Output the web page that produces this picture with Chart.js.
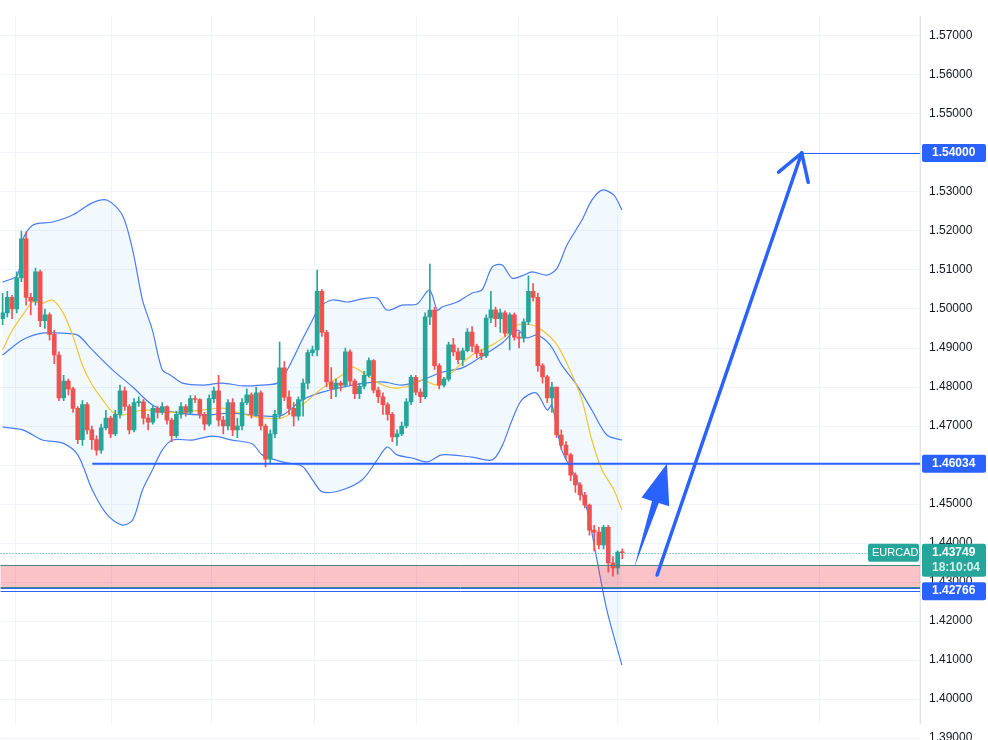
<!DOCTYPE html>
<html>
<head>
<meta charset="utf-8">
<script src="https://cdn.jsdelivr.net/npm/chart.js@4/dist/chart.umd.min.js"></script>
<style>
  html, body { margin: 0; padding: 0; background: #fff; }
  #wrap { width: 988px; height: 740px; }
</style>
</head>
<body>
<div id="wrap"><canvas id="c" width="988" height="740"></canvas></div>
<script>
// --- data (EURCAD) ---
const closes = [
  1.4990, 1.5030, 1.5000, 1.5080, 1.5180, 1.5030, 1.5020, 1.5095, 1.4970, 1.4985,
  1.4935, 1.4882, 1.4772, 1.4815, 1.4795, 1.4745, 1.4665, 1.4755, 1.4690, 1.4665,
  1.4638, 1.4695, 1.4720, 1.4680, 1.4730, 1.4790, 1.4750, 1.4690, 1.4760, 1.4762,
  1.4720, 1.4710, 1.4745, 1.4735, 1.4750, 1.4715, 1.4675, 1.4730, 1.4750, 1.4735,
  1.4770, 1.4768, 1.4730, 1.4705, 1.4770, 1.4790, 1.4715, 1.4700, 1.4760, 1.4690,
  1.4700, 1.4760, 1.4780, 1.4730, 1.4785, 1.4700, 1.4615, 1.4680, 1.4730, 1.4849,
  1.4774, 1.4745, 1.4725, 1.4768, 1.4810, 1.4888, 1.4895, 1.5045, 1.4940, 1.4813,
  1.4795, 1.4810, 1.4805, 1.4890, 1.4815, 1.4783, 1.4802, 1.4830, 1.4868, 1.4792,
  1.4775, 1.4755, 1.4730, 1.4672, 1.4680, 1.4700, 1.4762, 1.4825, 1.4787, 1.4775,
  1.4980, 1.4997, 1.4855, 1.4805, 1.4820, 1.4908, 1.4890, 1.4870, 1.4893, 1.4941,
  1.4905, 1.4887, 1.4880, 1.4977, 1.4998, 1.4975, 1.4990, 1.4938, 1.4985, 1.4928,
  1.4925, 1.4967, 1.5045, 1.5030, 1.4855, 1.4826, 1.4772, 1.4800, 1.4677, 1.4651,
  1.4626, 1.4574, 1.4549, 1.4523, 1.4497, 1.4433, 1.4428, 1.4395, 1.4440, 1.4349,
  1.4336, 1.4377, 1.4375
];
const firstOpen = 1.4975;
const highs = [
  1.5040, 1.5045, 1.5035, 1.5095, 1.5200, 1.5198, 1.5040, 1.5105, 1.5100, 1.5000,
  1.4990, 1.4945, 1.4890, 1.4830, 1.4820, 1.4800, 1.4750, 1.4765, 1.4760, 1.4700,
  1.4675, 1.4705, 1.4740, 1.4725, 1.4740, 1.4805, 1.4800, 1.4755, 1.4770, 1.4775,
  1.4768, 1.4730, 1.4752, 1.4750, 1.4760, 1.4752, 1.4720, 1.4738, 1.4760, 1.4755,
  1.4778, 1.4778, 1.4770, 1.4735, 1.4780, 1.4800, 1.4830, 1.4725, 1.4768, 1.4770,
  1.4720, 1.4770, 1.4795, 1.4785, 1.4800, 1.4790, 1.4705, 1.4690, 1.4740, 1.4915,
  1.4865, 1.4790, 1.4760, 1.4775, 1.4820, 1.4895, 1.4905, 1.5100, 1.5050, 1.4945,
  1.4850, 1.4820, 1.4815, 1.4900, 1.4895, 1.4820, 1.4810, 1.4840, 1.4875, 1.4870,
  1.4800, 1.4785, 1.4760, 1.4735, 1.4690, 1.4710, 1.4770, 1.4830, 1.4830, 1.4795,
  1.4990, 1.5115, 1.5005, 1.4860, 1.4825, 1.4915, 1.4925, 1.4900, 1.4900, 1.4950,
  1.4955, 1.4910, 1.4895, 1.4985, 1.5045, 1.5005, 1.5000, 1.4995, 1.4990, 1.4990,
  1.4940, 1.4975, 1.5085, 1.5065, 1.5040, 1.4860, 1.4830, 1.4812, 1.4800, 1.4690,
  1.4660, 1.4630, 1.4580, 1.4555, 1.4530, 1.4500, 1.4445, 1.4440, 1.4445, 1.4445,
  1.4365, 1.4380, 1.4385
];
const lows = [
  1.4960, 1.4980, 1.4975, 1.4990, 1.5070, 1.5010, 1.4985, 1.5010, 1.4955, 1.4950,
  1.4920, 1.4860, 1.4765, 1.4765, 1.4780, 1.4735, 1.4655, 1.4650, 1.4680, 1.4640,
  1.4625, 1.4630, 1.4690, 1.4670, 1.4675, 1.4720, 1.4740, 1.4680, 1.4685, 1.4750,
  1.4705, 1.4690, 1.4705, 1.4720, 1.4730, 1.4705, 1.4660, 1.4670, 1.4720, 1.4725,
  1.4730, 1.4760, 1.4720, 1.4690, 1.4700, 1.4760, 1.4700, 1.4680, 1.4690, 1.4675,
  1.4670, 1.4690, 1.4755, 1.4720, 1.4725, 1.4690, 1.4595, 1.4605, 1.4670, 1.4720,
  1.4765, 1.4730, 1.4700, 1.4715, 1.4725, 1.4795, 1.4880, 1.4880, 1.4930, 1.4800,
  1.4770, 1.4775, 1.4790, 1.4800, 1.4805, 1.4770, 1.4770, 1.4795, 1.4825, 1.4785,
  1.4760, 1.4730, 1.4715, 1.4660, 1.4650, 1.4675, 1.4695, 1.4755, 1.4780, 1.4760,
  1.4770, 1.4960, 1.4845, 1.4795, 1.4800, 1.4815, 1.4880, 1.4860, 1.4855, 1.4890,
  1.4890, 1.4875, 1.4870, 1.4875, 1.4965, 1.4955, 1.4940, 1.4930, 1.4895, 1.4920,
  1.4900, 1.4915, 1.4960, 1.5020, 1.4840, 1.4810, 1.4760, 1.4735, 1.4670, 1.4640,
  1.4615, 1.4560, 1.4530, 1.4510, 1.4490, 1.4420, 1.4380, 1.4385, 1.4385, 1.4325,
  1.4315, 1.4320, 1.4360
];

// Bollinger bands and moving average: [bar index, price]
const upperBand = [[0,1.5069],[3.2,1.5087],[4.3,1.5177],[6.4,1.5215],[10.6,1.5223],[14.9,1.5241],[19.1,1.5272],[22.3,1.5279],[25.5,1.5241],[27.7,1.5151],[29.8,1.5023],[31.9,1.4946],[34,1.4844],[35.7,1.4831],[38.3,1.4810],[42.6,1.4805],[46.8,1.4810],[51.1,1.4803],[55.3,1.4805],[58.5,1.4810],[60,1.4831],[61.7,1.4869],[63.8,1.4921],[66,1.4972],[67.4,1.5003],[70.2,1.5023],[73.4,1.5018],[76.6,1.5026],[79.8,1.5028],[81.9,1.4997],[85.1,1.5010],[88.3,1.5013],[90.9,1.5049],[92.6,1.4997],[93.6,1.5005],[96.8,1.5018],[100,1.5041],[102.1,1.5049],[104.3,1.5108],[106.4,1.5113],[108.5,1.5079],[110.6,1.5085],[112.8,1.5095],[116,1.5087],[118.1,1.5105],[120.2,1.5164],[123.4,1.5228],[125.5,1.5279],[127.7,1.5305],[130.2,1.5292],[131.9,1.5254]];
const middleBand = [[0,1.4882],[4.3,1.4921],[8.5,1.4938],[12.8,1.4938],[16,1.4933],[19.1,1.4895],[23.4,1.4844],[27.7,1.4800],[31.9,1.4754],[36.2,1.4736],[42.6,1.4728],[48.9,1.4733],[55.3,1.4726],[59.6,1.4728],[63.8,1.4767],[68.1,1.4787],[74.5,1.4805],[80.9,1.4813],[85.1,1.4805],[89.4,1.4818],[93.6,1.4838],[97.9,1.4849],[102.1,1.4879],[106.4,1.4913],[109.6,1.4946],[111.7,1.4926],[113.8,1.4933],[116.6,1.4908],[119.1,1.4856],[122.3,1.4805],[125.5,1.4741],[128.7,1.4677],[131.9,1.4664]];
const lowerBand = [[0,1.4697],[4.3,1.4690],[8.5,1.4664],[12.8,1.4656],[16,1.4626],[19.1,1.4536],[22.3,1.4472],[25.5,1.4446],[27.7,1.4459],[29.8,1.4536],[31.9,1.4587],[34,1.4638],[36.2,1.4664],[40.4,1.4664],[44.7,1.4674],[48.9,1.4664],[53.2,1.4654],[55.3,1.4626],[59.6,1.4608],[63.8,1.4597],[66,1.4562],[68.1,1.4531],[72.3,1.4536],[76.6,1.4562],[79.8,1.4613],[81.9,1.4646],[84,1.4626],[87.2,1.4618],[90.4,1.4608],[93.6,1.4626],[100,1.4620],[104.3,1.4613],[106.4,1.4649],[108.5,1.4715],[110.6,1.4767],[113.6,1.4785],[116,1.4741],[117,1.4754],[119.1,1.4638],[122.3,1.4562],[124.5,1.4485],[126.6,1.4356],[128.7,1.4228],[131.9,1.4087]];
const maLine = [[0,1.4895],[2.1,1.4946],[4.3,1.4985],[6.4,1.5018],[8.5,1.5015],[10.6,1.5023],[12.8,1.4992],[14.9,1.4933],[17,1.4856],[19.1,1.4805],[21.3,1.4767],[23.4,1.4736],[25.5,1.4728],[29.8,1.4741],[34,1.4736],[38.3,1.4736],[42.6,1.4741],[46.8,1.4746],[51.1,1.4731],[55.3,1.4721],[59.6,1.4721],[63.8,1.4754],[68.1,1.4797],[72.3,1.4831],[74.5,1.4851],[76.6,1.4838],[80.9,1.4805],[84,1.4797],[87.2,1.4805],[89.4,1.4818],[92.6,1.4805],[95.7,1.4838],[100,1.4882],[104.3,1.4908],[107.4,1.4933],[109.6,1.4959],[112.8,1.4959],[114.9,1.4946],[118.1,1.4908],[121.3,1.4831],[123.4,1.4767],[125.5,1.4664],[127.7,1.4587],[130.2,1.4536],[131.9,1.4485]];

const yTicks = [1.39, 1.40, 1.41, 1.42, 1.43, 1.44, 1.45, 1.46, 1.47, 1.48, 1.49, 1.50, 1.51, 1.52, 1.53, 1.54, 1.55, 1.56, 1.57, 1.58];
const vGrid = [13, 33.5, 55.4, 77.3, 99, 120.6, 141.2, 163.5, 184.7];

// drawn levels and arrows
const targetLevel = 1.54;
const supportLevel = 1.46034;
const lastPrice = 1.43749;
const lowLevel = 1.42766;
const zoneTop = 1.4344, zoneBottom = 1.4287;
const bigArrow = { from: [139.4, 1.4318], to: [170.2, 1.54] };
const smallArrow = { from: [134.5, 1.4336], to: [141.5, 1.46034] };

const UP = '#26a69a', DOWN = '#ef5350', BLUE = '#2962ff';
// price scale of the picture: 1.57 sits 36px from the top, 0.01 per 39px
const refPrice = 1.57, refPx = 36, pxPerUnit = 3900;

const opens = closes.map((c, i) => (i === 0 ? firstOpen : closes[i - 1]));
const colors = closes.map((c, i) => (c >= opens[i] ? UP : DOWN));
const bodies = closes.map((c, i) => ({ x: i, y: [opens[i], c] }));
const wicks = closes.map((c, i) => ({ x: i, y: [lows[i], highs[i]] }));
const pts = arr => arr.map(p => ({ x: p[0], y: p[1] }));

// --- overlay: levels, zone, arrows, price labels ---
const overlay = {
  id: 'overlay',
  afterDatasetsDraw(chart) {
    const { ctx, chartArea: a, scales: { x, y } } = chart;
    ctx.save();
    // pink zone
    ctx.fillStyle = 'rgba(242,54,69,0.3)';
    ctx.fillRect(a.left, y.getPixelForValue(zoneTop), a.right - a.left, y.getPixelForValue(zoneBottom) - y.getPixelForValue(zoneTop));
    ctx.strokeStyle = '#3a8f7d';
    ctx.lineWidth = 1;
    [zoneTop, zoneBottom].forEach(v => {
      const py = Math.round(y.getPixelForValue(v)) + 0.5;
      ctx.beginPath(); ctx.moveTo(a.left, py); ctx.lineTo(a.right, py); ctx.stroke();
    });
    // low level double line
    ctx.strokeStyle = BLUE;
    const ly = Math.round(y.getPixelForValue(lowLevel)) + 0.5;
    ctx.beginPath(); ctx.moveTo(a.left, ly); ctx.lineTo(a.right, ly); ctx.stroke();
    ctx.beginPath(); ctx.moveTo(a.left, ly - 3); ctx.lineTo(a.right, ly - 3); ctx.stroke();
    // last price dotted
    ctx.strokeStyle = UP;
    ctx.setLineDash([1, 2]);
    const lp = Math.round(y.getPixelForValue(lastPrice)) + 0.5;
    ctx.beginPath(); ctx.moveTo(a.left, lp); ctx.lineTo(a.right, lp); ctx.stroke();
    ctx.setLineDash([]);
    // support line
    ctx.strokeStyle = BLUE;
    ctx.lineWidth = 2;
    const sy = y.getPixelForValue(supportLevel);
    ctx.beginPath(); ctx.moveTo(x.getPixelForValue(19.1), sy); ctx.lineTo(a.right, sy); ctx.stroke();
    // target line
    ctx.lineWidth = 1;
    const ty = Math.round(y.getPixelForValue(targetLevel)) + 0.5;
    ctx.beginPath(); ctx.moveTo(x.getPixelForValue(bigArrow.to[0]), ty); ctx.lineTo(a.right, ty); ctx.stroke();

    // big line arrow
    const bx0 = x.getPixelForValue(bigArrow.from[0]), by0 = y.getPixelForValue(bigArrow.from[1]);
    const bx1 = x.getPixelForValue(bigArrow.to[0]), by1 = y.getPixelForValue(bigArrow.to[1]);
    ctx.strokeStyle = BLUE;
    ctx.lineWidth = 3.5;
    ctx.lineCap = 'round';
    ctx.beginPath(); ctx.moveTo(bx0, by0); ctx.lineTo(bx1, by1); ctx.stroke();
    const ang = Math.atan2(by1 - by0, bx1 - bx0);
    [ang + Math.PI - 0.55, ang + Math.PI + 0.55].forEach(t => {
      ctx.beginPath(); ctx.moveTo(bx1, by1); ctx.lineTo(bx1 + 30 * Math.cos(t), by1 + 30 * Math.sin(t)); ctx.stroke();
    });

    // small filled arrow
    const sx0 = x.getPixelForValue(smallArrow.from[0]), sy0 = y.getPixelForValue(smallArrow.from[1]);
    const sx1 = x.getPixelForValue(smallArrow.to[0]), sy1 = y.getPixelForValue(smallArrow.to[1]);
    const sa = Math.atan2(sy1 - sy0, sx1 - sx0);
    const nx = -Math.sin(sa), ny = Math.cos(sa);
    const len = Math.hypot(sx1 - sx0, sy1 - sy0);
    const hb = len - 40;
    const hx = sx0 + hb * Math.cos(sa), hy = sy0 + hb * Math.sin(sa);
    ctx.fillStyle = BLUE;
    ctx.beginPath();
    ctx.moveTo(sx0, sy0);
    ctx.lineTo(hx + nx * 4, hy + ny * 4);
    ctx.lineTo(hx + nx * 15, hy + ny * 15);
    ctx.lineTo(sx1, sy1);
    ctx.lineTo(hx - nx * 14, hy - ny * 14);
    ctx.lineTo(hx - nx * 3, hy - ny * 3);
    ctx.closePath();
    ctx.fill();
    ctx.restore();
  },
  afterDraw(chart) {
    const { ctx, chartArea: a, scales: { y } } = chart;
    ctx.save();
    ctx.font = 'bold 12px "Liberation Sans", Arial, sans-serif';
    ctx.textBaseline = 'middle';
    const box = (v, bg, h, text2) => {
      const py = y.getPixelForValue(v);
      ctx.fillStyle = bg;
      const top = text2 ? py - 9 : py - h / 2;
      ctx.beginPath(); ctx.roundRect(a.right + 2, top, 64, h, 2); ctx.fill();
      ctx.fillStyle = '#fff';
      ctx.fillText(v.toFixed(5), a.right + 12, py);
      if (text2) {
        ctx.fillStyle = '#d7f0ec';
        ctx.fillText(text2, a.right + 12, py + 15);
      }
    };
    box(targetLevel, BLUE, 18);
    box(supportLevel, BLUE, 18);
    box(lastPrice, UP, 33, '18:10:04');
    box(lowLevel, BLUE, 18);
    // symbol tag
    const lp = y.getPixelForValue(lastPrice);
    ctx.fillStyle = UP;
    ctx.beginPath(); ctx.roundRect(a.right - 52, lp - 9, 51, 18, 2); ctx.fill();
    ctx.fillStyle = '#fff';
    ctx.font = '11px "Liberation Sans", Arial, sans-serif';
    ctx.fillText('EURCAD', a.right - 48, lp);
    ctx.restore();
  }
};

const chart = new Chart(document.getElementById('c'), {
  data: {
    datasets: [
      { type: 'line', data: pts(upperBand), borderColor: '#4a7cf5', borderWidth: 1.2, pointRadius: 0, tension: 0.3,
        fill: { target: 2 }, backgroundColor: 'rgba(33,150,243,0.06)', order: 5 },
      { type: 'line', data: pts(middleBand), borderColor: '#4a7cf5', borderWidth: 1.2, pointRadius: 0, tension: 0.3, fill: false, order: 5 },
      { type: 'line', data: pts(lowerBand), borderColor: '#4a7cf5', borderWidth: 1.2, pointRadius: 0, tension: 0.3, fill: false, order: 5 },
      { type: 'line', data: pts(maLine), borderColor: '#f2c431', borderWidth: 1.2, pointRadius: 0, tension: 0.3, fill: false, order: 4 },
      { type: 'bar', data: wicks, backgroundColor: colors, barThickness: 1, grouped: false, order: 2 },
      { type: 'bar', data: bodies, backgroundColor: colors, barThickness: 4, minBarLength: 1, grouped: false, order: 1 }
    ]
  },
  options: {
    responsive: false,
    animation: false,
    layout: { padding: 0 },
    plugins: { legend: { display: false }, tooltip: { enabled: false } },
    scales: {
      x: {
        type: 'linear', min: -0.43, max: 195.4, offset: false,
        afterBuildTicks: s => { s.ticks = vGrid.map(v => ({ value: v })); },
        ticks: { display: false },
        grid: { color: '#f0f3fa', drawTicks: false },
        border: { display: false }
      },
      y: {
        position: 'right', min: 1.3895, max: 1.5792,
        afterBuildTicks: s => { s.ticks = yTicks.map(v => ({ value: v })); },
        afterFit: s => { s.width = 68; },
        ticks: { callback: v => v.toFixed(5), color: '#131722', padding: 9,
          font: { size: 12, family: '"Liberation Sans", Arial, sans-serif' } },
        grid: { color: '#f0f3fa', drawTicks: false },
        border: { display: true, color: '#e0e3eb' }
      }
    }
  },
  plugins: [overlay]
});

// match the picture's price scale to wherever the plot area ended up
const area = chart.chartArea;
chart.options.scales.y.max = refPrice + (refPx - area.top) / pxPerUnit;
chart.options.scales.y.min = refPrice - (area.bottom - refPx) / pxPerUnit;
chart.update();
</script>
</body>
</html>
